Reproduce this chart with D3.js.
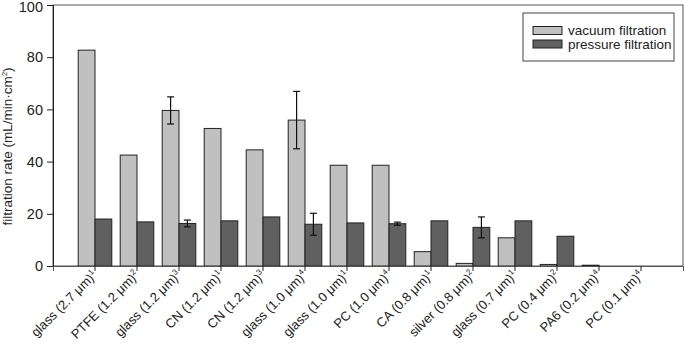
<!DOCTYPE html>
<html><head><meta charset="utf-8">
<script src="https://cdn.jsdelivr.net/npm/d3@7"></script>
<style>body{margin:0;background:#fff}svg{display:block;font-family:"Liberation Sans",Arial,sans-serif}</style>
</head><body><svg id="c" width="685" height="345"></svg>
<script>
const categories = ["glass (2.7 μm)","PTFE (1.2 μm)","glass (1.2 μm)","CN (1.2 μm)","CN (1.2 μm)","glass (1.0 μm)","glass (1.0 μm)","PC (1.0 μm)","CA (0.8 μm)","silver (0.8 μm)","glass (0.7 μm)","PC (0.4 μm)","PA6 (0.2 μm)","PC (0.1 μm)"];
const superscripts = ["1","2","3","1","3","4","1","4","1","2","1","2","4","4"];
const vacuum = [82.7,42.5,59.6,52.7,44.5,55.9,38.6,38.6,5.5,1.0,10.8,0.6,0.3,0];
const vacuumErr = [0,0,5.2,0,0,11,0,0,0,0,0,0,0,0];
const pressure = [18.0,16.9,16.3,17.3,18.8,16.0,16.5,16.2,17.3,14.8,17.3,11.4,0,0];
const pressureErr = [0,0,1.3,0,0,4.2,0,0.6,0,4.0,0,0,0,0];
const yTicks = [0,20,40,60,80,100];
const seriesNames = ["vacuum filtration","pressure filtration"];
const colors = ["#c0c0c0","#606060"];

const svg = d3.select("#c");
const L=53, R=683, T=5, B=266;
const x = d3.scaleBand().domain(d3.range(categories.length)).range([L,R]).paddingInner(0).paddingOuter(0.5);
const y = d3.scaleLinear().domain([0,100]).range([B,T]);
const bw = x.bandwidth()*0.4;

// frame
svg.append("rect").attr("x",L).attr("y",T).attr("width",R-L).attr("height",B-T)
  .attr("fill","none").attr("stroke","#555").attr("stroke-width",1);

const data = [vacuum, pressure];
const errs = [vacuumErr, pressureErr];
data.forEach((vals,s)=>{
  svg.append("g").selectAll("rect").data(vals.map((v,i)=>({v,i})).filter(d=>d.v>0)).join("rect")
    .attr("x",d=>x(d.i)+x.bandwidth()/2 + (s===0?-bw:0))
    .attr("y",d=>y(d.v)).attr("width",bw).attr("height",d=>B-y(d.v))
    .attr("fill",colors[s]).attr("stroke","#222").attr("stroke-width",1);
});
errs.forEach((ev,s)=>{
  const g = svg.append("g").attr("stroke","#111").attr("stroke-width",1.2);
  ev.forEach((e,i)=>{
    if(!e) return;
    const cx = x(i)+x.bandwidth()/2 + (s===0?-bw/2:bw/2);
    const v = data[s][i];
    g.append("line").attr("x1",cx).attr("x2",cx).attr("y1",y(v+e)).attr("y2",y(v-e));
    g.append("line").attr("x1",cx-3.5).attr("x2",cx+3.5).attr("y1",y(v+e)).attr("y2",y(v+e));
    g.append("line").attr("x1",cx-3.5).attr("x2",cx+3.5).attr("y1",y(v-e)).attr("y2",y(v-e));
  });
});

// y axis
const ya = svg.append("g").attr("transform",`translate(${L},0)`)
  .call(d3.axisLeft(y).tickValues(yTicks).tickSize(6).tickPadding(4));
ya.select(".domain").attr("stroke","#222");
ya.selectAll(".tick line").attr("stroke","#222");
ya.selectAll("text").attr("font-size",14.5).attr("fill","#222").attr("font-family","Liberation Sans, Arial");
ya.selectAll(".tick").filter(d=>d===100).select("text").attr("dy","0.42em");

// x axis
const xa = svg.append("g").attr("transform",`translate(0,${B})`)
  .call(d3.axisBottom(x).tickSize(5).tickFormat(""));
xa.select(".domain").attr("stroke","#555");
xa.selectAll(".tick line").attr("stroke","#222");
const lbl = svg.append("g").selectAll("text").data(categories).join("text")
  .attr("transform",(d,i)=>`translate(${x(i)+x.bandwidth()/2+3},${B+10}) rotate(-45)`)
  .attr("text-anchor","end").attr("font-size",13).attr("fill","#222");
lbl.append("tspan").text(d=>d);
lbl.append("tspan").attr("font-size",8).attr("dy",-5).text((d,i)=>superscripts[i]);

// y title
const yt = svg.append("text").attr("transform",`translate(12,${(T+B)/2+11}) rotate(-90)`)
  .attr("text-anchor","middle").attr("font-size",13.5).attr("fill","#222");
yt.append("tspan").text("filtration rate (mL/min·cm");
yt.append("tspan").attr("font-size",8).attr("dy",-5).text("2");
yt.append("tspan").attr("dy",5).text(")");

// legend
const lg = svg.append("g");
lg.append("rect").attr("x",523).attr("y",13).attr("width",151).attr("height",48)
  .attr("fill","#fff").attr("stroke","#444");
seriesNames.forEach((n,i)=>{
  lg.append("rect").attr("x",533).attr("y",26.5+i*13.5).attr("width",29).attr("height",8)
    .attr("fill",colors[i]).attr("stroke","#222");
  lg.append("text").attr("x",568).attr("y",35+i*13.5).attr("font-size",13.5).attr("fill","#222").text(n);
});
</script></body></html>
